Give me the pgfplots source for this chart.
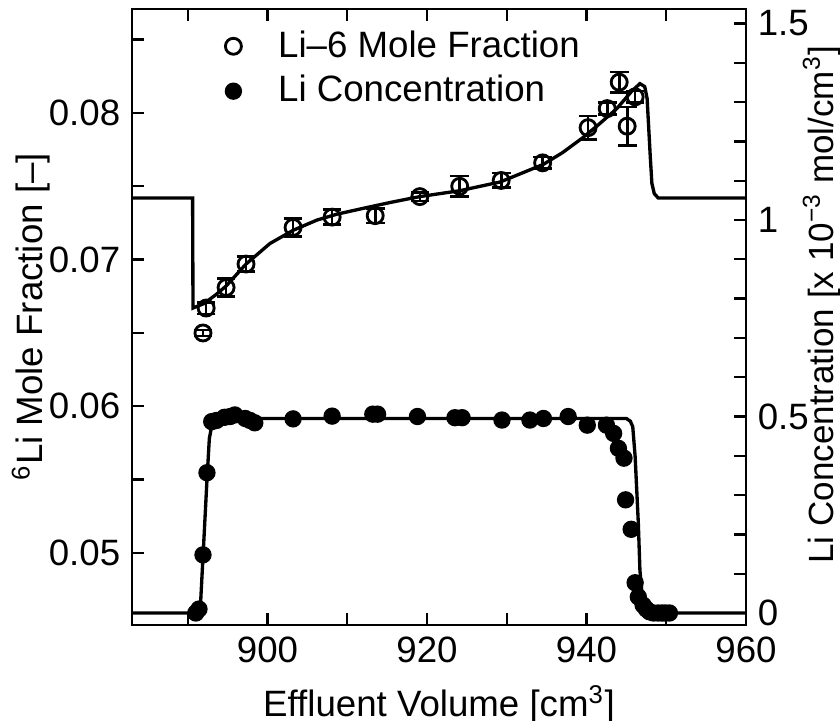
\documentclass[border=0pt]{standalone}
\usepackage{fontspec}
\setmainfont{Liberation Sans}
\usepackage{pgfplots}
\usepackage{pgfplotstable}
\pgfplotsset{compat=1.18}

\pgfplotstableread{
x y ey
891.9 0.0650 0.0002
892.3 0.0667 0.0004
894.8 0.0681 0.0006
897.3 0.0697 0.0005
903.2 0.0722 0.0006
908.1 0.0729 0.0005
913.5 0.0730 0.0005
919.1 0.0743 0.0003
924.1 0.0750 0.0007
929.3 0.0754 0.0005
934.5 0.0766 0.0004
940.2 0.0790 0.0008
942.6 0.0803 0.0004
944.1 0.0821 0.0007
945.1 0.0791 0.0013
946.1 0.0811 0.0004
}\sixli

\pgfplotstableread{
x y
883.0 0.0742
890.6 0.0742
890.65 0.0667
892.0 0.0670
893.5 0.0676
894.8 0.0682
897.3 0.0697
900.3 0.0711
903.2 0.0720
906.2 0.0727
908.7 0.0731
912.0 0.0735
915.4 0.0739
919.1 0.0743
924.1 0.0747
929.2 0.0753
934.6 0.0765
937.0 0.0773
939.5 0.0783
941.5 0.0792
943.8 0.0803
945.7 0.0815
946.7 0.0820
947.3 0.0818
947.6 0.0810
947.8 0.0790
948.0 0.0770
948.2 0.0752
948.5 0.0745
949.0 0.0742
960.0 0.0742
}\sixlifit

\pgfplotstableread{
x y
891.0 0.000
891.4 0.010
891.9 0.148
892.4 0.357
893.0 0.487
893.6 0.490
894.6 0.498
895.3 0.500
895.9 0.504
897.2 0.495
897.8 0.490
898.4 0.484
903.2 0.494
908.1 0.501
913.2 0.506
913.8 0.506
918.8 0.500
923.5 0.497
924.4 0.497
929.4 0.491
932.9 0.491
934.6 0.495
937.7 0.500
940.1 0.478
942.5 0.478
943.4 0.457
944.0 0.419
944.7 0.394
944.9 0.288
945.6 0.213
946.1 0.077
946.5 0.041
947.1 0.020
947.5 0.010
947.9 0.003
948.4 0.000
949.0 0.000
949.5 0.000
949.9 0.000
950.4 0.000
}\liconc

\pgfplotstableread{
x y
883.0 0.000
891.2 0.000
891.6 0.025
892.0 0.180
892.4 0.338
892.7 0.444
893.1 0.487
893.6 0.495
945.0 0.495
945.5 0.488
945.8 0.474
946.1 0.398
946.5 0.228
946.7 0.109
947.0 0.041
947.5 0.006
948.2 0.000
960.0 0.000
}\liconcfit

\begin{document}
\begin{tikzpicture}[font=\fontsize{11}{13}\selectfont]
\pgfplotsset{
  common/.style={
    scale only axis, width=184.2pt, height=184.8pt,
    xmin=883, xmax=960,
    major tick length=3.6pt, minor tick length=3.6pt,
    every tick/.style={black, line width=0.7pt},
    axis line style={line width=0.8pt, -},
    /pgf/number format/assume math mode=true,
    every tick label/.append style={font=\fontsize{11}{13}\selectfont},
    label style={font=\fontsize{11}{13}\selectfont},
  }
}
\begin{axis}[common,
  at={(0,0)}, anchor=south west,
  ymin=0.04509, ymax=0.08709,
  tick align=inside,
  xtick={900,920,940,960}, minor xtick={890,910,930,950},
  xticklabels={900,920,940,960},
  ytick={0.05,0.06,0.07,0.08}, minor ytick={0.055,0.065,0.075,0.085},
  yticklabels={0.05,0.06,0.07,0.08},
  ytick pos=left, xtick pos=both,
  xlabel={Effluent Volume [cm\textsuperscript{3}]},
  ylabel={\textsuperscript{6}Li Mole Fraction [–]},
  ylabel style={at={(axis description cs:-0.145,0.5)}, anchor=base, rotate=0},
]
\addplot[black, line width=1pt, forget plot] table[x=x, y=y] {\sixlifit};
\addplot[black, only marks, mark=o, mark size=2.4pt, line width=0.85pt,
  error bars/.cd, y dir=both, y explicit,
  error bar style={line width=0.8pt},
  error mark options={line width=0.8pt, mark size=2.8pt, rotate=90}]
  table[x=x, y=y, y error=ey] {\sixli};
\end{axis}
\begin{axis}[common,
  at={(0,0)}, anchor=south west,
  ymin=-0.0305, ymax=1.537,
  axis x line=none, axis y line*=right,
  tick align=inside,
  axis line style={line width=0.8pt, -},
  ytick={0,0.5,1,1.5}, yticklabels={0,0.5,1,1.5}, minor y tick num=4,
  ylabel={Li Concentration [x 10\textsuperscript{−3} mol/cm\textsuperscript{3}]},
  ylabel style={at={(axis description cs:1.142,0.52)}, anchor=base,
    font=\fontsize{10.5}{12.5}\selectfont},
  legend style={draw=none, fill=none, at={(0.1455,0.977)}, anchor=north west,
    inner xsep=0pt, inner ysep=0pt, nodes={inner sep=2pt},
    font=\fontsize{11}{13}\selectfont, row sep=0pt},
  legend cell align=left,
  legend image code/.code={\path (0pt,0pt) (14pt,0pt);
    \draw[#1] plot coordinates {(3pt,0pt)};},
]
\addlegendimage{black, only marks, mark=o, mark size=2.4pt, line width=0.85pt}
\addlegendentry{Li–6 Mole Fraction}
\addplot[black, line width=1pt, forget plot] table[x=x, y=y] {\liconcfit};
\addplot[black, only marks, mark=*, mark size=2.4pt] table[x=x, y=y] {\liconc};
\addlegendentry{Li Concentration}
\end{axis}
\pgfresetboundingbox
\path[use as bounding box] (-39.6pt,-28.8pt) rectangle (212.4pt,187.5pt);
\end{tikzpicture}
\end{document}
